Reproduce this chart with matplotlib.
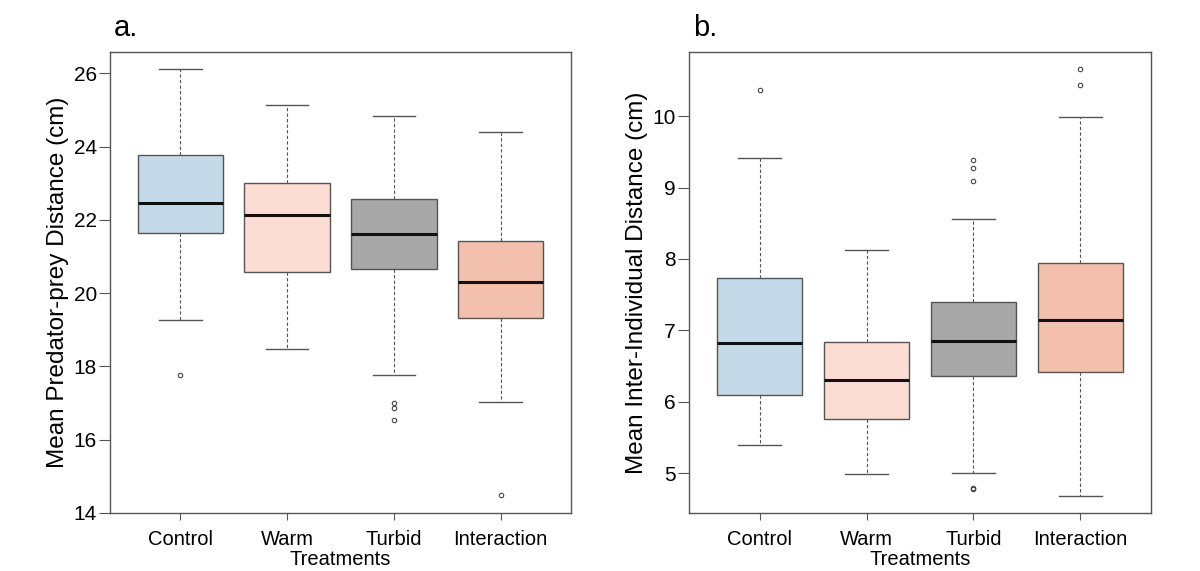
import matplotlib
matplotlib.use("Agg")
import matplotlib.pyplot as plt

plt.rcParams['font.family'] = ['Liberation Sans', 'DejaVu Sans']

treatments = ['Control', 'Warm', 'Turbid', 'Interaction']
colors = ['#C5DAE8', '#FBDDD3', '#A8A8A8', '#F2C0AC']

# panel a: mean predator-prey distance (cm)
a_whislo = [19.27, 18.49, 17.77, 17.02]
a_q1 = [21.64, 20.59, 20.66, 19.33]
a_med = [22.46, 22.14, 21.62, 20.30]
a_q3 = [23.77, 23.01, 22.58, 21.43]
a_whishi = [26.12, 25.13, 24.84, 24.41]
a_fliers = [[17.76], [], [17.0, 16.88, 16.54], [14.48]]

# panel b: mean inter-individual distance (cm)
b_whislo = [5.39, 4.99, 5.00, 4.68]
b_q1 = [6.10, 5.76, 6.36, 6.41]
b_med = [6.82, 6.30, 6.85, 7.15]
b_q3 = [7.73, 6.84, 7.40, 7.94]
b_whishi = [9.41, 8.13, 8.56, 9.99]
b_fliers = [[10.37], [], [9.39, 9.27, 9.09, 4.79, 4.78], [10.66, 10.43]]


def make_stats(lo, q1, med, q3, hi, fl):
    return [dict(whislo=lo[i], q1=q1[i], med=med[i], q3=q3[i], whishi=hi[i],
                 fliers=fl[i], label=treatments[i]) for i in range(len(treatments))]


def draw(ax, stats, ylabel, letter, yticks):
    bp = ax.bxp(stats, positions=range(1, 5), widths=0.8, patch_artist=True,
                showfliers=True,
                boxprops=dict(edgecolor='#555555', linewidth=1.0),
                medianprops=dict(color='#111111', linewidth=2.2),
                whiskerprops=dict(color='#555555', linewidth=0.8, linestyle=(0, (3, 2))),
                capprops=dict(color='#555555', linewidth=1.0),
                flierprops=dict(marker='o', markersize=3.2, markerfacecolor='none',
                                markeredgecolor='#444444', markeredgewidth=0.8))
    for patch, c in zip(bp['boxes'], colors):
        patch.set_facecolor(c)
    for cap in bp['caps']:
        m = cap.get_xdata().mean()
        cap.set_xdata([m - 0.2, m + 0.2])
    vals = [s['whislo'] for s in stats] + [s['whishi'] for s in stats]
    vals += [f for s in stats for f in s['fliers']]
    lo, hi = min(vals), max(vals)
    pad = (hi - lo) * 0.04
    ax.set_ylim(lo - pad, hi + pad)
    ax.set_xlim(0.5 - 0.16, 4.5 + 0.16)
    ax.set_yticks(yticks)
    ax.set_xticks(range(1, 5))
    ax.set_xticklabels(treatments, fontsize=14.5)
    ax.tick_params(axis='y', labelsize=15, length=8, color='#555555', pad=1.5)
    ax.tick_params(axis='x', length=5, color='#555555', pad=7)
    for sp in ax.spines.values():
        sp.set_color('#555555')
        sp.set_linewidth(1.0)
    ax.set_ylabel(ylabel, fontsize=17.5, labelpad=3)
    ax.set_xlabel('Treatments', fontsize=14.5, labelpad=1)
    ax.text(0.008, 1.035, letter, transform=ax.transAxes, fontsize=21,
            ha='left', va='baseline')


fig = plt.figure(figsize=(12, 5.71), dpi=100)
ax1 = fig.add_axes([110 / 1200, 58 / 571, 461 / 1200, 461 / 571])
ax2 = fig.add_axes([689 / 1200, 58 / 571, 462 / 1200, 461 / 571])

draw(ax1, make_stats(a_whislo, a_q1, a_med, a_q3, a_whishi, a_fliers),
     'Mean Predator-prey Distance (cm)', 'a.', [14, 16, 18, 20, 22, 24, 26])
draw(ax2, make_stats(b_whislo, b_q1, b_med, b_q3, b_whishi, b_fliers),
     'Mean Inter-Individual Distance (cm)', 'b.', [5, 6, 7, 8, 9, 10])

fig.savefig('out.png', dpi=100)
